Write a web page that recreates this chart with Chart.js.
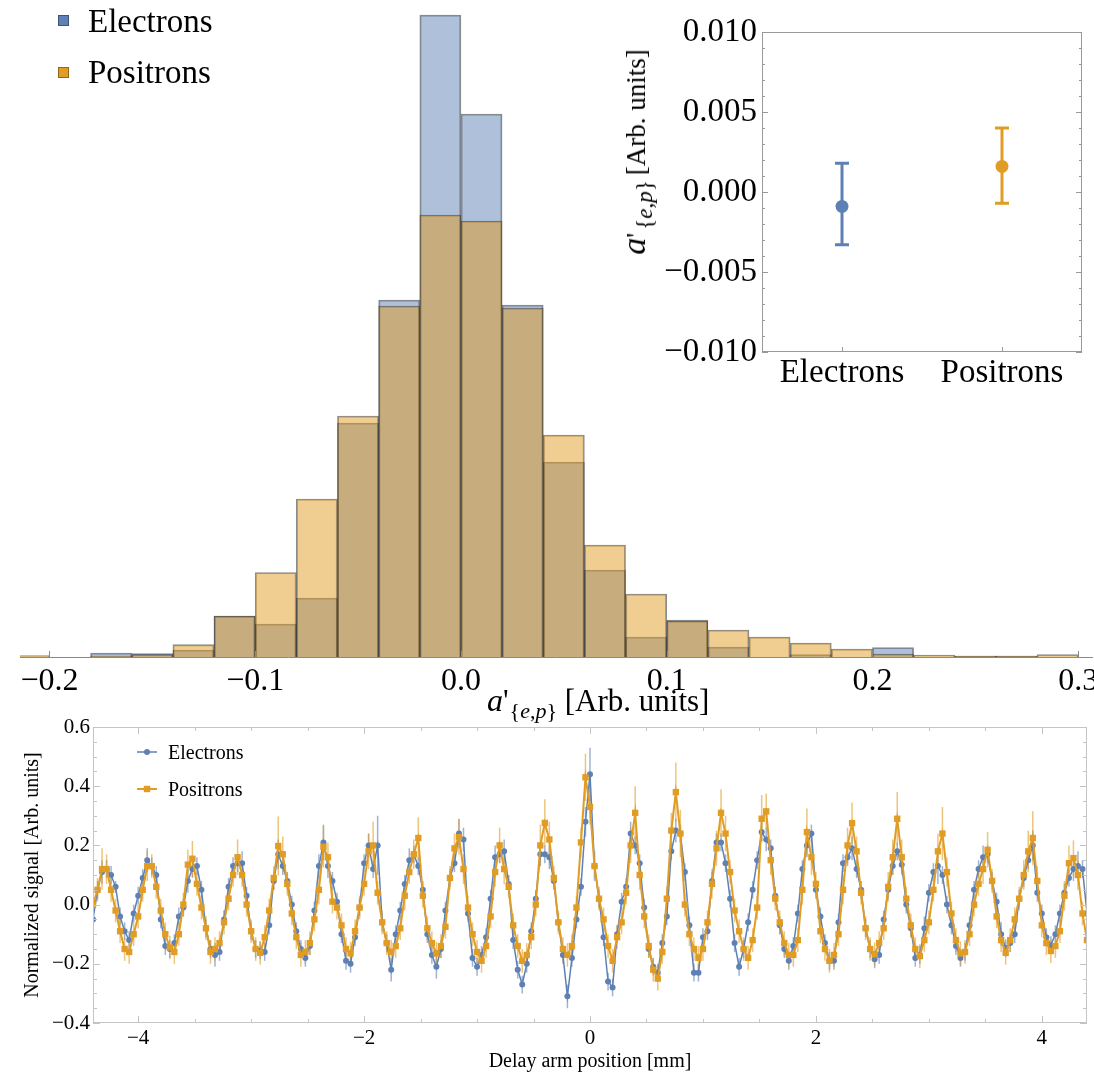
<!DOCTYPE html>
<html><head><meta charset="utf-8">
<script src="https://cdn.jsdelivr.net/npm/chart.js@4.4.1/dist/chart.umd.min.js"></script>
<style>
html,body{margin:0;padding:0;background:#fff;}
#wrap{position:relative;width:1094px;height:1078px;overflow:hidden;font-family:'Liberation Serif','Times New Roman',serif;color:#000;}
canvas{position:absolute;}
.lbl{position:absolute;white-space:nowrap;line-height:1;}
.sq{position:absolute;width:11px;height:11px;box-sizing:border-box;border:1px solid rgba(0,0,0,0.35);}
sub.m{vertical-align:-0.3em;line-height:0;}
</style></head><body>
<div id="wrap">
<canvas id="hist" width="1094" height="700" style="left:0;top:0"></canvas>
<canvas id="inset" width="494" height="400" style="left:600px;top:0"></canvas>
<canvas id="signal" width="1094" height="363" style="left:0;top:715px"></canvas>

<div class="sq" style="left:58px;top:15px;background:#5E81B5"></div>
<div class="lbl" style="left:88px;top:5px;font-size:33px">Electrons</div>
<div class="sq" style="left:58px;top:67px;background:#E19C24"></div>
<div class="lbl" style="left:88px;top:56px;font-size:33px">Positrons</div>

<div class="lbl" style="left:487px;top:684px;font-size:31px"><i style="font-size:32px">a</i>'<sub class="m" style="font-size:22px;margin-left:1px">{<i>e</i>,<i>p</i>}</sub> [Arb. units]</div>
<div class="lbl" style="left:634px;top:152px;font-size:27px;transform:translate(-50%,-50%) rotate(-90deg)"><i style="font-size:34px">a</i>'<sub class="m" style="font-size:23px;margin-left:3px">{<i>e</i>,<i>p</i>}</sub><span style="margin-left:5px">[Arb. units]</span></div>

<svg style="position:absolute;left:135px;top:742px" width="24" height="20"><line x1="2" y1="10" x2="22" y2="10" stroke="#5E81B5" stroke-width="1.5"/><circle cx="12" cy="10" r="3" fill="#5E81B5"/></svg>
<div class="lbl" style="left:168px;top:742px;font-size:20px">Electrons</div>
<svg style="position:absolute;left:135px;top:779px" width="24" height="20"><line x1="2" y1="10" x2="22" y2="10" stroke="#E19C24" stroke-width="2"/><rect x="8.8" y="6.8" width="6.4" height="6.4" fill="#E19C24"/></svg>
<div class="lbl" style="left:168px;top:779px;font-size:20px">Positrons</div>
</div>
<script>
// ---------------- data ----------------
const binCenters = [-0.21,-0.19,-0.17,-0.15,-0.13,-0.11,-0.09,-0.07,-0.05,-0.03,-0.01,0.01,0.03,0.05,0.07,0.09,0.11,0.13,0.15,0.17,0.19,0.21,0.23,0.25,0.27,0.29];
const electronCounts = [0,0,4,3.5,7,41,33,59,234,357,642,543,352,195,87,20,37,10,0,2.5,0,9.5,0,1,1,0];
const positronCounts = [1.5,0,1,2.5,12.4,41,84.5,158,241,351,442,436,349,222,112,63,36,27,20,14,8,3,2,1,1,2.5];
const histTicks = [-0.2,-0.1,0.0,0.1,0.2,0.3];

const insetLabels = ['Electrons','Positrons'];
const insetValues = [-0.0009, 0.0016];
const insetUpper = [0.0018, 0.0040];
const insetLower = [-0.0033, -0.0007];
const insetTicks = [-0.010,-0.005,0.000,0.005,0.010];

const positions = [
-4.40,-4.36,-4.32,-4.28,-4.24,-4.20,-4.16,-4.12,-4.08,-4.04,
-4.00,-3.96,-3.92,-3.88,-3.84,-3.80,-3.76,-3.72,-3.68,-3.64,
-3.60,-3.56,-3.52,-3.48,-3.44,-3.40,-3.36,-3.32,-3.28,-3.24,
-3.20,-3.16,-3.12,-3.08,-3.04,-3.00,-2.96,-2.92,-2.88,-2.84,
-2.80,-2.76,-2.72,-2.68,-2.64,-2.60,-2.56,-2.52,-2.48,-2.44,
-2.40,-2.36,-2.32,-2.28,-2.24,-2.20,-2.16,-2.12,-2.08,-2.04,
-2.00,-1.96,-1.92,-1.88,-1.84,-1.80,-1.76,-1.72,-1.68,-1.64,
-1.60,-1.56,-1.52,-1.48,-1.44,-1.40,-1.36,-1.32,-1.28,-1.24,
-1.20,-1.16,-1.12,-1.08,-1.04,-1.00,-0.96,-0.92,-0.88,-0.84,
-0.80,-0.76,-0.72,-0.68,-0.64,-0.60,-0.56,-0.52,-0.48,-0.44,
-0.40,-0.36,-0.32,-0.28,-0.24,-0.20,-0.16,-0.12,-0.08,-0.04,
0.00,0.04,0.08,0.12,0.16,0.20,0.24,0.28,0.32,0.36,
0.40,0.44,0.48,0.52,0.56,0.60,0.64,0.68,0.72,0.76,
0.80,0.84,0.88,0.92,0.96,1.00,1.04,1.08,1.12,1.16,
1.20,1.24,1.28,1.32,1.36,1.40,1.44,1.48,1.52,1.56,
1.60,1.64,1.68,1.72,1.76,1.80,1.84,1.88,1.92,1.96,
2.00,2.04,2.08,2.12,2.16,2.20,2.24,2.28,2.32,2.36,
2.40,2.44,2.48,2.52,2.56,2.60,2.64,2.68,2.72,2.76,
2.80,2.84,2.88,2.92,2.96,3.00,3.04,3.08,3.12,3.16,
3.20,3.24,3.28,3.32,3.36,3.40,3.44,3.48,3.52,3.56,
3.60,3.64,3.68,3.72,3.76,3.80,3.84,3.88,3.92,3.96,
4.00,4.04,4.08,4.12,4.16,4.20,4.24,4.28,4.32,4.36,
4.40];

const electronSignal = [
-0.05,0.05,0.11,0.12,0.10,0.06,-0.04,-0.09,-0.12,-0.03,
0.03,0.09,0.15,0.13,0.10,-0.05,-0.14,-0.15,-0.13,-0.04,
-0.01,0.08,0.12,0.13,0.05,-0.08,-0.15,-0.17,-0.16,-0.05,
0.06,0.13,0.14,0.14,0.03,-0.09,-0.15,-0.155,-0.16,-0.07,
0.08,0.17,0.13,0.08,0.00,-0.09,-0.15,-0.18,-0.14,-0.02,
0.13,0.21,0.13,0.08,0.01,-0.10,-0.19,-0.20,-0.11,-0.01,
0.14,0.20,0.12,0.20,-0.06,-0.13,-0.22,-0.10,-0.02,0.07,
0.15,0.17,0.13,0.05,-0.10,-0.17,-0.21,-0.15,-0.02,0.09,
0.14,0.24,0.22,-0.03,-0.18,-0.21,-0.17,-0.11,0.02,0.16,
0.17,0.18,0.07,-0.12,-0.22,-0.27,-0.20,-0.09,0.02,0.17,
0.17,0.16,0.08,-0.06,-0.17,-0.31,-0.18,-0.05,0.06,0.28,
0.44,0.13,0.02,-0.11,-0.26,-0.28,-0.10,0.01,0.06,0.24,
0.20,0.14,-0.01,-0.15,-0.21,-0.23,-0.13,-0.04,0.18,0.25,
0.24,0.11,-0.07,-0.23,-0.23,-0.11,-0.09,0.08,0.21,0.21,
0.14,0.02,-0.13,-0.21,-0.15,-0.06,0.05,0.15,0.245,0.22,
0.19,0.03,-0.07,-0.15,-0.19,-0.14,-0.03,0.12,0.20,0.24,
0.05,-0.04,-0.13,-0.19,-0.19,-0.06,0.14,0.16,0.19,0.12,
0.05,-0.08,-0.15,-0.185,-0.17,-0.05,0.05,0.13,0.18,0.135,
0.00,-0.08,-0.18,-0.17,-0.08,0.04,0.11,0.13,0.10,0.00,
-0.07,-0.14,-0.18,-0.16,-0.07,0.05,0.12,0.16,0.17,0.08,
0.01,-0.10,-0.147,-0.13,-0.10,0.02,0.09,0.15,0.20,0.04,
-0.03,-0.11,-0.137,-0.10,-0.03,0.04,0.09,0.12,0.13,0.12,
-0.03];

const electronError = [
0.03,0.03,0.04,0.03,0.03,0.02,0.03,0.03,0.03,0.03,
0.03,0.03,0.04,0.03,0.03,0.03,0.03,0.03,0.03,0.03,
0.03,0.04,0.03,0.03,0.03,0.03,0.03,0.04,0.03,0.03,
0.03,0.03,0.03,0.04,0.03,0.03,0.03,0.03,0.03,0.03,
0.03,0.05,0.03,0.03,0.03,0.03,0.03,0.03,0.03,0.03,
0.04,0.06,0.04,0.03,0.03,0.03,0.03,0.03,0.03,0.03,
0.03,0.04,0.03,0.10,0.03,0.03,0.04,0.03,0.03,0.03,
0.04,0.03,0.03,0.03,0.03,0.03,0.04,0.03,0.03,0.03,
0.03,0.05,0.04,0.03,0.03,0.03,0.03,0.03,0.03,0.04,
0.03,0.04,0.03,0.03,0.03,0.03,0.03,0.03,0.03,0.04,
0.03,0.04,0.03,0.03,0.03,0.04,0.03,0.03,0.03,0.05,
0.09,0.05,0.03,0.03,0.03,0.03,0.03,0.03,0.03,0.04,
0.03,0.03,0.03,0.03,0.03,0.03,0.03,0.03,0.03,0.04,
0.03,0.03,0.03,0.03,0.03,0.03,0.03,0.03,0.03,0.03,
0.03,0.03,0.03,0.03,0.03,0.03,0.03,0.03,0.03,0.04,
0.03,0.03,0.03,0.03,0.03,0.03,0.03,0.03,0.04,0.03,
0.03,0.03,0.03,0.03,0.03,0.03,0.03,0.03,0.04,0.03,
0.03,0.03,0.03,0.03,0.03,0.03,0.03,0.03,0.03,0.03,
0.03,0.03,0.03,0.03,0.04,0.03,0.03,0.06,0.03,0.03,
0.03,0.03,0.03,0.03,0.03,0.03,0.03,0.04,0.03,0.03,
0.03,0.04,0.03,0.03,0.03,0.03,0.03,0.03,0.05,0.03,
0.03,0.03,0.03,0.03,0.03,0.03,0.03,0.04,0.05,0.03,
0.03];

const positronSignal = [
0.00,0.05,0.12,0.12,0.05,-0.02,-0.09,-0.15,-0.16,-0.10,
-0.04,0.05,0.13,0.13,0.06,-0.02,-0.10,-0.145,-0.16,-0.10,
0.00,0.135,0.155,0.07,-0.01,-0.08,-0.16,-0.15,-0.13,-0.06,
0.02,0.10,0.16,0.10,0.00,-0.09,-0.15,-0.163,-0.11,-0.02,
0.09,0.198,0.17,0.07,-0.03,-0.11,-0.17,-0.16,-0.13,-0.05,
0.05,0.195,0.16,0.01,-0.01,-0.07,-0.15,-0.165,-0.09,-0.01,
0.07,0.18,0.20,0.04,-0.06,-0.13,-0.16,-0.14,-0.08,0.03,
0.11,0.17,0.225,0.03,-0.08,-0.13,-0.165,-0.14,-0.075,0.09,
0.19,0.228,0.12,-0.01,-0.10,-0.16,-0.19,-0.14,-0.04,0.11,
0.20,0.12,0.06,-0.07,-0.14,-0.19,-0.17,-0.11,0.00,0.20,
0.276,0.22,0.09,-0.06,-0.15,-0.17,-0.14,-0.01,0.21,0.43,
0.33,0.13,0.02,-0.05,-0.14,-0.19,-0.11,-0.06,0.04,0.20,
0.31,0.10,-0.04,-0.14,-0.22,-0.25,-0.16,0.02,0.25,0.38,
0.24,0.00,-0.10,-0.15,-0.18,-0.15,-0.06,0.07,0.19,0.31,
0.24,0.11,-0.02,-0.09,-0.15,-0.18,-0.12,-0.01,0.29,0.315,
0.15,0.02,-0.06,-0.13,-0.17,-0.17,-0.12,0.05,0.245,0.16,
0.07,-0.09,-0.15,-0.19,-0.17,-0.10,0.05,0.20,0.275,0.18,
0.04,-0.08,-0.15,-0.168,-0.13,-0.08,0.06,0.16,0.29,0.16,
0.02,-0.07,-0.15,-0.174,-0.12,-0.06,0.05,0.18,0.24,0.11,
-0.03,-0.12,-0.165,-0.16,-0.10,0.00,0.07,0.12,0.185,0.08,
-0.04,-0.12,-0.163,-0.12,-0.05,0.02,0.10,0.18,0.225,0.08,
-0.07,-0.13,-0.157,-0.14,-0.09,0.03,0.14,0.157,0.10,-0.03,
-0.12];

const positronError = [
0.04,0.04,0.07,0.05,0.04,0.04,0.04,0.04,0.04,0.04,
0.04,0.04,0.05,0.04,0.04,0.04,0.04,0.04,0.04,0.04,
0.04,0.05,0.06,0.04,0.04,0.04,0.04,0.04,0.04,0.04,
0.04,0.04,0.06,0.04,0.04,0.04,0.04,0.04,0.04,0.04,
0.04,0.10,0.06,0.04,0.04,0.04,0.04,0.04,0.04,0.04,
0.05,0.07,0.05,0.04,0.04,0.04,0.04,0.04,0.04,0.04,
0.04,0.06,0.08,0.04,0.04,0.04,0.04,0.04,0.04,0.05,
0.04,0.05,0.07,0.04,0.04,0.04,0.04,0.04,0.04,0.04,
0.05,0.06,0.05,0.04,0.04,0.04,0.04,0.04,0.04,0.05,
0.06,0.05,0.04,0.04,0.04,0.04,0.04,0.04,0.04,0.07,
0.08,0.06,0.04,0.04,0.04,0.04,0.04,0.04,0.05,0.08,
0.06,0.04,0.04,0.04,0.04,0.04,0.04,0.04,0.04,0.06,
0.09,0.05,0.04,0.04,0.04,0.04,0.04,0.04,0.06,0.10,
0.08,0.04,0.04,0.04,0.04,0.04,0.04,0.05,0.06,0.08,
0.06,0.04,0.04,0.04,0.04,0.04,0.04,0.04,0.08,0.06,
0.05,0.04,0.04,0.04,0.04,0.04,0.04,0.05,0.08,0.06,
0.04,0.04,0.04,0.04,0.04,0.04,0.05,0.06,0.07,0.05,
0.04,0.04,0.04,0.04,0.04,0.04,0.05,0.06,0.09,0.06,
0.04,0.04,0.04,0.04,0.04,0.04,0.04,0.06,0.09,0.05,
0.04,0.04,0.04,0.04,0.04,0.04,0.04,0.05,0.06,0.04,
0.04,0.04,0.04,0.04,0.04,0.04,0.05,0.07,0.09,0.05,
0.04,0.04,0.04,0.04,0.04,0.05,0.06,0.06,0.05,0.04,
0.04];

const signalXTicks = [-4,-2,0,2,4];
const signalYTicks = [-0.4,-0.2,0.0,0.2,0.4,0.6];

// ---------------- helpers ----------------
const SERIF = "'Liberation Serif','Times New Roman',serif";
Chart.defaults.font.family = SERIF;
Chart.defaults.color = '#000';
const fmt = (v, d) => (Math.abs(v) < 1e-9 ? 0 : v).toFixed(d).replace('-', '\u2212');
const zeroPad = s => { s.paddingLeft = 0; s.paddingRight = 0; s.paddingTop = 0; s.paddingBottom = 0; };
const BLUE = '#5E81B5', ORANGE = '#E19C24';

const errorBars = {
  id: 'errorBars',
  beforeDatasetsDraw(chart) {
    const {ctx, chartArea: a, scales: {y}} = chart;
    ctx.save();
    ctx.beginPath(); ctx.rect(a.left, a.top, a.right - a.left, a.bottom - a.top); ctx.clip();
    chart.data.datasets.forEach((ds, di) => {
      if (!ds.errLow) return;
      const meta = chart.getDatasetMeta(di);
      ctx.strokeStyle = ds.errColor; ctx.lineWidth = ds.errWidth;
      meta.data.forEach((pt, i) => {
        if (ds.errLow[i] == null) return;
        const y1 = y.getPixelForValue(ds.errLow[i]), y2 = y.getPixelForValue(ds.errHigh[i]);
        ctx.beginPath();
        ctx.moveTo(pt.x, y1); ctx.lineTo(pt.x, y2);
        if (ds.capWidth) {
          const c = ds.capWidth / 2;
          ctx.moveTo(pt.x - c, y1); ctx.lineTo(pt.x + c, y1);
          ctx.moveTo(pt.x - c, y2); ctx.lineTo(pt.x + c, y2);
        }
        ctx.stroke();
      });
    });
    ctx.restore();
  }
};

function frameTicks(cfg) {
  return {
    id: 'frameTicks',
    afterDraw(chart) {
      const {ctx, chartArea: a, scales: {x, y}} = chart;
      ctx.save();
      ctx.strokeStyle = cfg.color; ctx.lineWidth = 1;
      ctx.strokeRect(Math.round(a.left) + 0.5, Math.round(a.top) + 0.5, Math.round(a.right - a.left) - 1, Math.round(a.bottom - a.top) - 1);
      ctx.beginPath();
      (cfg.xMajor || []).forEach(v => { const p = Math.round(x.getPixelForValue(v)) + 0.5;
        ctx.moveTo(p, a.bottom); ctx.lineTo(p, a.bottom - cfg.major);
        if (cfg.xTop) { ctx.moveTo(p, a.top); ctx.lineTo(p, a.top + cfg.major); } });
      (cfg.xMinor || []).forEach(v => { const p = Math.round(x.getPixelForValue(v)) + 0.5;
        ctx.moveTo(p, a.bottom); ctx.lineTo(p, a.bottom - cfg.minor);
        if (cfg.xTop) { ctx.moveTo(p, a.top); ctx.lineTo(p, a.top + cfg.minor); } });
      (cfg.yMajor || []).forEach(v => { const p = Math.round(y.getPixelForValue(v)) + 0.5;
        ctx.moveTo(a.left, p); ctx.lineTo(a.left + cfg.major, p);
        ctx.moveTo(a.right, p); ctx.lineTo(a.right - cfg.major, p); });
      (cfg.yMinor || []).forEach(v => { const p = Math.round(y.getPixelForValue(v)) + 0.5;
        ctx.moveTo(a.left, p); ctx.lineTo(a.left + cfg.minor, p);
        ctx.moveTo(a.right, p); ctx.lineTo(a.right - cfg.minor, p); });
      ctx.stroke();
      ctx.restore();
    }
  };
}
function range(a, b, s) { const out = []; for (let v = a; v <= b + 1e-9; v += s) out.push(+v.toFixed(6)); return out; }

// ---------------- histogram ----------------
const histAxisTicks = {
  id: 'histAxisTicks',
  afterDraw(chart) {
    const {ctx, chartArea: a, scales: {x}} = chart;
    ctx.save(); ctx.strokeStyle = '#8a8a8a'; ctx.lineWidth = 1; ctx.beginPath();
    histTicks.forEach(v => { const p = Math.round(x.getPixelForValue(v)) + 0.5; ctx.moveTo(p, a.bottom); ctx.lineTo(p, a.bottom - 6); });
    ctx.stroke(); ctx.restore();
  }
};
const toBars = arr => binCenters.map((c, i) => ({x: c, y: arr[i] > 0 ? arr[i] : null}));
new Chart(document.getElementById('hist'), {
  type: 'bar',
  data: {datasets: [
    {label: 'Electrons', data: toBars(electronCounts), backgroundColor: 'rgba(94,129,181,0.5)', borderColor: 'rgba(45,45,45,0.55)', borderWidth: 1.2, order: 1, grouped: false, barPercentage: 1, categoryPercentage: 1},
    {label: 'Positrons', data: toBars(positronCounts), backgroundColor: 'rgba(225,156,36,0.5)', borderColor: 'rgba(45,45,45,0.55)', borderWidth: 1.2, order: 0, grouped: false, barPercentage: 1, categoryPercentage: 1}
  ]},
  options: {
    responsive: false, animation: false, devicePixelRatio: 1,
    layout: {padding: {left: 20, right: 2, top: 5, bottom: 0}},
    plugins: {legend: {display: false}, tooltip: {enabled: false}},
    scales: {
      x: {type: 'linear', offset: false, min: -0.2143, max: 0.3067,
          grid: {display: false, drawTicks: false, offset: false}, border: {display: true, color: '#8a8a8a', width: 1},
          ticks: {padding: 5, font: {size: 32}, color: '#000', maxRotation: 0, autoSkip: false, callback: v => fmt(v, 1)},
          afterBuildTicks: s => { s.ticks = histTicks.map(v => ({value: v})); },
          afterFit: s => { s.height = 43; zeroPad(s); }},
      y: {display: false, min: 0, max: 652}
    }
  },
  plugins: [histAxisTicks]
});

// ---------------- inset ----------------
new Chart(document.getElementById('inset'), {
  type: 'line',
  data: {labels: insetLabels, datasets: [
    {label: 'Electrons', data: [insetValues[0], null], showLine: false, pointRadius: 6.5, pointBorderWidth: 0, backgroundColor: BLUE, borderColor: BLUE,
     errLow: [insetLower[0], null], errHigh: [insetUpper[0], null], errColor: BLUE, errWidth: 3, capWidth: 14},
    {label: 'Positrons', data: [null, insetValues[1]], showLine: false, pointRadius: 6.5, pointBorderWidth: 0, backgroundColor: ORANGE, borderColor: ORANGE,
     errLow: [null, insetLower[1]], errHigh: [null, insetUpper[1]], errColor: ORANGE, errWidth: 3, capWidth: 14}
  ]},
  options: {
    responsive: false, animation: false, devicePixelRatio: 1,
    layout: {padding: {left: 0, right: 12, top: 32, bottom: 0}},
    plugins: {legend: {display: false}, tooltip: {enabled: false}},
    scales: {
      x: {type: 'category', offset: true, grid: {display: false, drawTicks: false}, border: {display: false},
          ticks: {padding: 2, font: {size: 33}, color: '#000', maxRotation: 0},
          afterFit: s => { s.height = 48; zeroPad(s); }},
      y: {min: -0.01, max: 0.01, grid: {display: false, drawTicks: false}, border: {display: false},
          ticks: {padding: 5, font: {size: 33}, color: '#000', callback: v => fmt(v, 3)},
          afterBuildTicks: s => { s.ticks = insetTicks.map(v => ({value: v})); },
          afterFit: s => { s.width = 162; zeroPad(s); }}
    }
  },
  plugins: [errorBars, frameTicks({color: '#999', major: 6, minor: 3, yMajor: insetTicks, yMinor: range(-0.01, 0.01, 0.001)}), {
    id: 'catTicks', afterDraw(chart) { const {ctx, chartArea: a, scales: {x}} = chart; ctx.save(); ctx.strokeStyle = '#999'; ctx.beginPath();
      insetLabels.forEach((l, i) => { const p = Math.round(x.getPixelForValue(i)) + 0.5; ctx.moveTo(p, a.bottom); ctx.lineTo(p, a.bottom - 5); });
      ctx.stroke(); ctx.restore(); }
  }]
});

// ---------------- signal ----------------
new Chart(document.getElementById('signal'), {
  type: 'line',
  data: {datasets: [
    {label: 'Electrons', data: positions.map((x, i) => ({x, y: electronSignal[i]})), borderColor: BLUE, backgroundColor: BLUE, borderWidth: 1.5,
     pointRadius: 3, pointBorderWidth: 0, pointStyle: 'circle', tension: 0, order: 1,
     errLow: electronSignal.map((v, i) => v - electronError[i]), errHigh: electronSignal.map((v, i) => v + electronError[i]), errColor: 'rgba(94,129,181,0.6)', errWidth: 1.5},
    {label: 'Positrons', data: positions.map((x, i) => ({x, y: positronSignal[i]})), borderColor: ORANGE, backgroundColor: ORANGE, borderWidth: 2,
     pointRadius: 4.5, pointBorderWidth: 0, pointStyle: 'rect', tension: 0, order: 0,
     errLow: positronSignal.map((v, i) => v - positronError[i]), errHigh: positronSignal.map((v, i) => v + positronError[i]), errColor: 'rgba(225,156,36,0.6)', errWidth: 1.5}
  ]},
  options: {
    responsive: false, animation: false, devicePixelRatio: 1,
    layout: {padding: {left: 0, right: 7, top: 12, bottom: 0}},
    plugins: {legend: {display: false}, tooltip: {enabled: false}},
    scales: {
      x: {type: 'linear', min: -4.4, max: 4.4, grid: {display: false, drawTicks: false}, border: {display: false},
          ticks: {padding: 3, font: {size: 21}, color: '#000', maxRotation: 0, autoSkip: false, callback: v => fmt(v, 0)},
          title: {display: true, text: 'Delay arm position [mm]', font: {size: 20}, color: '#000', padding: {top: 0, bottom: 4}},
          afterBuildTicks: s => { s.ticks = signalXTicks.map(v => ({value: v})); },
          afterFit: s => { s.height = 55; zeroPad(s); }},
      y: {min: -0.4, max: 0.6, grid: {display: false, drawTicks: false}, border: {display: false},
          ticks: {padding: 3, font: {size: 21}, color: '#000', callback: v => fmt(v, 1)},
          title: {display: true, text: 'Normalized signal [Arb. units]', font: {size: 20}, color: '#000', padding: {top: 21, bottom: 0}},
          afterBuildTicks: s => { s.ticks = signalYTicks.map(v => ({value: v})); },
          afterFit: s => { s.width = 93; zeroPad(s); }}
    }
  },
  plugins: [errorBars, frameTicks({color: '#c4c4c4', major: 7, minor: 4, xTop: true,
    xMajor: signalXTicks, xMinor: range(-4, 4, 0.5), yMajor: signalYTicks, yMinor: range(-0.4, 0.6, 0.05)})]
});
</script>
</body></html>
